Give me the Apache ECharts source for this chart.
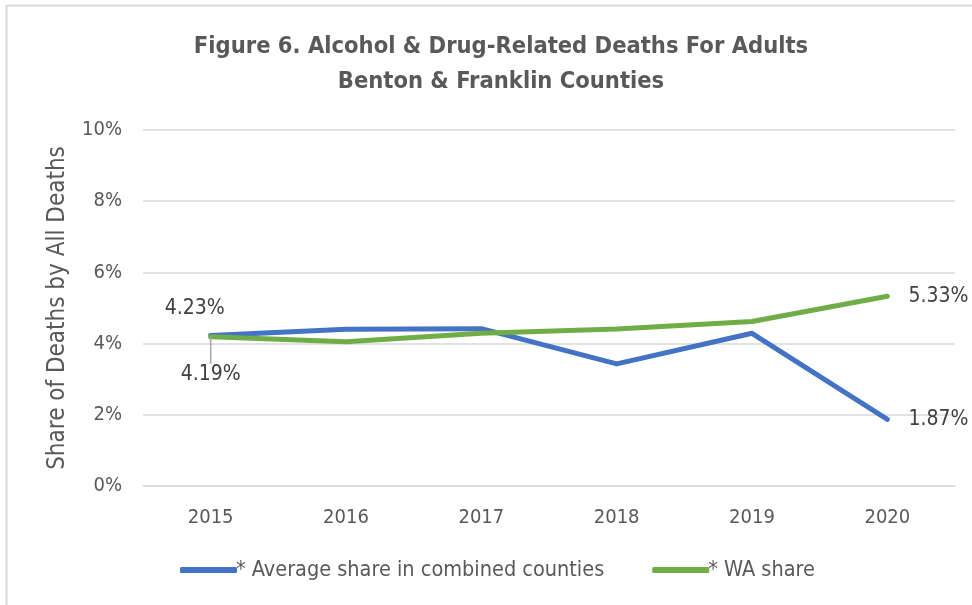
<!DOCTYPE html>
<html>
<head>
<meta charset="utf-8">
<script src="https://cdn.jsdelivr.net/npm/echarts@6/dist/echarts.min.js"></script>
<style>html,body{margin:0;padding:0;background:#fff}#c{width:972px;height:605px}</style>
</head>
<body>
<div id="c"></div>
<script>
var years = ['2015', '2016', '2017', '2018', '2019', '2020'];
var countiesShare = [4.23, 4.40, 4.42, 3.43, 4.29, 1.87];
var waShare = [4.19, 4.05, 4.29, 4.41, 4.62, 5.33];
var seriesNames = ['* Average share in combined counties', '* WA share'];
var titleLines = ['Figure 6. Alcohol & Drug-Related Deaths For Adults', 'Benton & Franklin Counties'];
var yAxisName = 'Share of Deaths by All Deaths';

var FONT = '"Liberation Sans Narrow", "DejaVu Sans Condensed", "Open Sans", sans-serif';
var GRAY = '#595959';

function fmt(v) { return v.toFixed(2) + '%'; }

var chart = echarts.init(document.getElementById('c'), null, {renderer: 'canvas'});

var blueData = countiesShare.map(function (v, i) {
  var d = {value: v};
  if (i === 0) d.label = {show: true, position: 'top', offset: [-16, -11], formatter: fmt(v)};
  if (i === years.length - 1) d.label = {show: true, position: 'right', distance: 21, formatter: fmt(v)};
  return d;
});
var greenData = waShare.map(function (v, i) {
  var d = {value: v};
  if (i === 0) {
    d.label = {show: true, position: 'bottom', distance: 5, formatter: fmt(v)};
    d.labelLine = {show: true, lineStyle: {color: '#a6a6a6', width: 1.5}};
  }
  if (i === years.length - 1) {
    d.label = {show: true, position: 'right', distance: 21, formatter: fmt(v)};
    d.labelLine = {show: false};
  }
  return d;
});

chart.setOption({
  animation: false,
  backgroundColor: '#fff',
  textStyle: {fontFamily: FONT},
  title: {
    text: titleLines.join('\n'),
    left: 496, top: 24, textAlign: 'center',
    textStyle: {fontFamily: FONT, fontWeight: 'bold', fontSize: 23.5, color: GRAY, lineHeight: 35}
  },
  graphic: [
    {type: 'line', shape: {x1: 6.5, y1: 5, x2: 6.5, y2: 605}, style: {stroke: '#d9d9d9', lineWidth: 2}},
    {type: 'line', shape: {x1: 6, y1: 5.5, x2: 972, y2: 5.5}, style: {stroke: '#d9d9d9', lineWidth: 2}}
  ],
  grid: {left: 143, right: 17, top: 130, bottom: 119},
  legend: {
    bottom: 19, left: 175, itemGap: 48, itemWidth: 57, itemHeight: 6,
    icon: 'roundRect',
    textStyle: {fontFamily: FONT, fontSize: 21.5, color: GRAY, padding: [0, 0, 0, -6]},
    data: seriesNames
  },
  xAxis: {
    type: 'category', data: years, boundaryGap: true,
    axisLine: {lineStyle: {color: '#d9d9d9', width: 1.5}},
    axisTick: {show: false},
    axisLabel: {color: GRAY, fontSize: 20, margin: 22, fontFamily: FONT}
  },
  yAxis: {
    type: 'value', min: 0, max: 10, interval: 2,
    name: yAxisName, nameLocation: 'middle', nameGap: 73, nameRotate: 90,
    nameTextStyle: {color: GRAY, fontSize: 24, fontFamily: FONT},
    axisLine: {show: false}, axisTick: {show: false},
    axisLabel: {color: GRAY, fontSize: 20, margin: 21, formatter: '{value}%', fontFamily: FONT},
    splitLine: {lineStyle: {color: '#d9d9d9', width: 1.5}}
  },
  series: [
    {
      name: seriesNames[0], type: 'line', data: blueData, symbol: 'circle', symbolSize: 0.1,
      showSymbol: true,
      lineStyle: {color: '#4472C4', width: 5, cap: 'round', join: 'round'},
      itemStyle: {color: '#4472C4'},
      label: {show: false, color: '#404040', fontSize: 21, fontFamily: FONT},
      z: 2
    },
    {
      name: seriesNames[1], type: 'line', data: greenData, symbol: 'circle', symbolSize: 0.1,
      showSymbol: true,
      lineStyle: {color: '#70AD47', width: 5, cap: 'round', join: 'round'},
      itemStyle: {color: '#70AD47'},
      label: {show: false, color: '#404040', fontSize: 21, fontFamily: FONT},
      labelLine: {show: false},
      labelLayout: function (p) { return p.dataIndex === 0 ? {dy: 22} : {}; },
      z: 3
    }
  ]
});
</script>
</body>
</html>
